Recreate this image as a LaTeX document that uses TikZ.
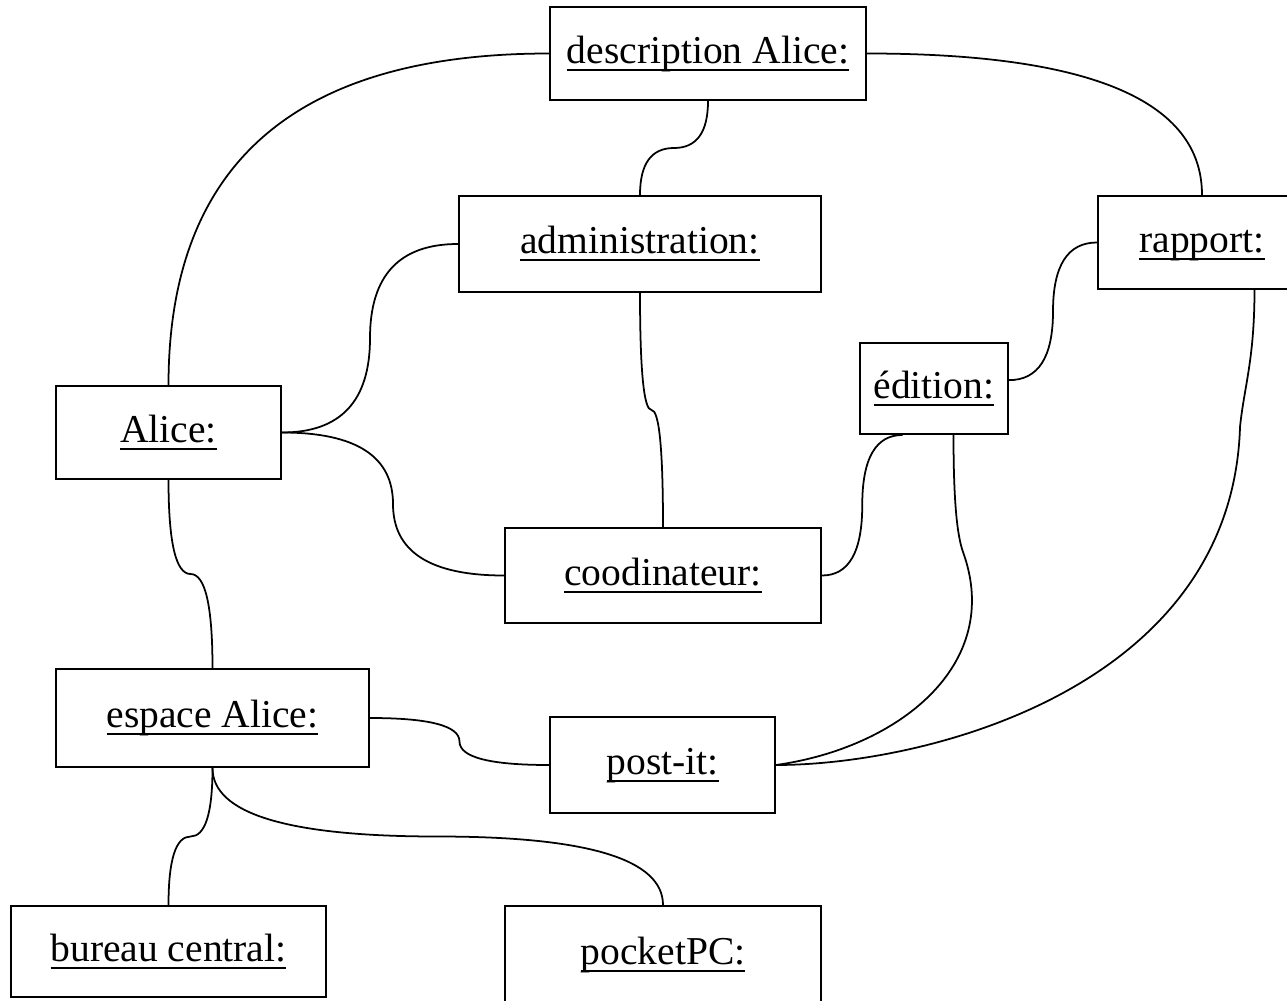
\documentclass[tikz,border=0pt]{standalone}
\usepackage{fontspec}
\setmainfont{Liberation Serif}
\usetikzlibrary{calc}

% underlined object name
\newcommand\objname[1]{\setbox0=\hbox{#1}\leavevmode\rlap{\rule[-4.3pt]{\wd0}{1.1pt}}\box0}

\tikzset{
  obj/.style={draw, line width=1.1pt, rectangle, inner sep=0pt,
    text height=16pt, text depth=5pt,
    font=\fontsize{22.5}{27}\selectfont},
  bw/.style={minimum width=#1*0.02cm},
  bh/.style={minimum height=#1*0.02cm},
  link/.style={line width=1pt},
  % quadratic bend: leaves horizontally, arrives vertically
  hv/.style={to path={.. controls ($(\tikztostart)!2/3!(\tikztotarget |- \tikztostart)$)
      and ($(\tikztotarget)!2/3!(\tikztotarget |- \tikztostart)$) .. (\tikztotarget) \tikztonodes}},
  % quadratic bend: leaves vertically, arrives horizontally
  vh/.style={to path={.. controls ($(\tikztostart)!2/3!(\tikztostart |- \tikztotarget)$)
      and ($(\tikztotarget)!2/3!(\tikztostart |- \tikztotarget)$) .. (\tikztotarget) \tikztonodes}},
}

\begin{document}
\begin{tikzpicture}[x=0.02cm, y=-0.02cm]
  \useasboundingbox (0,0) rectangle (1287,1000);
  \clip (0,0) rectangle (1287,1000);

  % objects
  \node[obj, bw=316, bh=93] (desc)   at (708,53.5)  {\objname{description Alice:}};
  \node[obj, bw=362, bh=96] (admin)  at (640,244)   {\objname{administration:}};
  \node[obj, bw=208, bh=93] (rap)    at (1202,242.5){\objname{rapport:}};
  \node[obj, bw=148, bh=91] (edit)   at (934,388.5) {\objname{édition:}};
  \node[obj, bw=225, bh=93] (alice)  at (168.5,432.5){\objname{Alice:}};
  \node[obj, bw=316, bh=95] (coord)  at (663,575.5) {\objname{coodinateur:}};
  \node[obj, bw=313, bh=98] (esp)    at (212.5,718) {\objname{espace Alice:}};
  \node[obj, bw=225, bh=96] (post)   at (662.5,765) {\objname{post-it:}};
  \node[obj, bw=315, bh=91] (bur)    at (168.5,951.5){\objname{bureau central:}};
  \node[obj, bw=316, bh=98] (pocket) at (663,955)   {\objname{pocketPC:}};

  % attachment points on the box borders
  \coordinate (e1) at ($(edit.south west)!0.29!(edit.south east)$);
  \coordinate (e2) at ($(edit.south west)!0.63!(edit.south east)$);
  \coordinate (e3) at ($(edit.north east)!0.41!(edit.south east)$);
  \coordinate (r1) at ($(rap.south west)!0.75!(rap.south east)$);
  \coordinate (k1) at (963,552);
  \coordinate (k2) at (1240,427);

  % midpoints of the two-part bends
  \coordinate (m1)  at ($(desc.south)!0.5!(admin.north)$);
  \coordinate (m2)  at ($(alice.east)!0.5!(admin.west)$);
  \coordinate (m3)  at ($(alice.east)!0.5!(coord.west)$);
  \coordinate (m4)  at ($(admin.south)!0.5!(coord.north)$);
  \coordinate (m5)  at ($(coord.east)!0.5!(e1)$);
  \coordinate (m6)  at ($(e3)!0.5!(rap.west)$);
  \coordinate (m7)  at ($(esp.east)!0.5!(post.west)$);
  \coordinate (m8)  at ($(alice.south)!0.5!(esp.north)$);
  \coordinate (m9)  at ($(esp.south)!0.5!(bur.north)$);
  \coordinate (m10) at ($(esp.south)!0.5!(pocket.north)$);

  % links
  \draw[link] (desc.west) to[hv] (alice.north);
  \draw[link] (desc.east) to[hv] (rap.north);
  \draw[link] (desc.south) to[vh] (m1) to[hv] (admin.north);
  \draw[link] (alice.east) to[hv] (m2) to[vh] (admin.west);
  \draw[link] (alice.east) to[hv] (m3) to[vh] (coord.west);
  \draw[link] (admin.south) to[vh] (m4) to[hv] (coord.north);
  \draw[link] (coord.east) to[hv] (m5) to[vh] (e1);
  \draw[link] (e3) to[hv] (m6) to[vh] (rap.west);
  \draw[link] (e2) .. controls +(0,66) and +(-6,-17) .. (k1)
                   .. controls +(41,113) and +(122,-17) .. (post.east);
  \draw[link] (r1) .. controls +(0,70) and +(4,-40) .. (k2)
                   .. controls +(-8,260) and +(152,0) .. (post.east);
  \draw[link] (esp.east) to[hv] (m7) to[vh] (post.west);
  \draw[link] (alice.south) to[vh] (m8) to[hv] (esp.north);
  \draw[link] (esp.south) to[vh] (m9) to[hv] (bur.north);
  \draw[link] (esp.south) to[vh] (m10) to[hv] (pocket.north);
\end{tikzpicture}
\end{document}
